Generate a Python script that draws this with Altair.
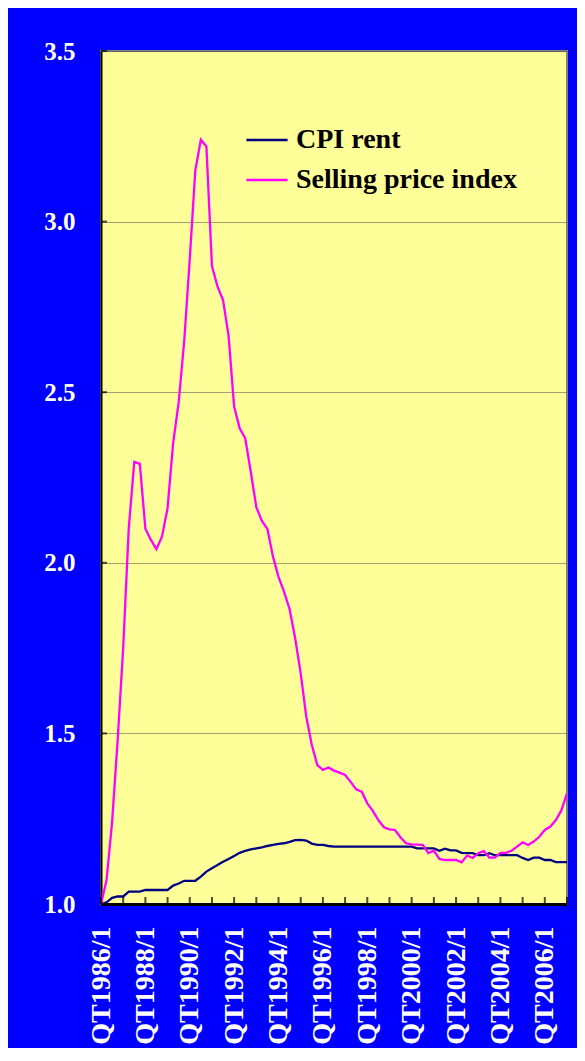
import altair as alt
import pandas as pd

# Quarter categories (1986 Q1 .. 2007 Q1)
quarters = [f"QT{y}/{q}" for y in range(1986, 2008) for q in range(1, 5)][:85]
label_quarters = [f"QT{y}/1" for y in range(1986, 2007, 2)]
tick_quarters = [f"QT{y}/1" for y in range(1986, 2008)]
y_ticks = [1.0, 1.5, 2.0, 2.5, 3.0, 3.5]
series_names = ["CPI rent", "Selling price index"]

cpi_rent = [
    1.000, 1.005, 1.018, 1.022, 1.022, 1.036, 1.036, 1.036, 1.041, 1.041,
    1.041, 1.041, 1.041, 1.054, 1.060, 1.068, 1.068, 1.068, 1.080, 1.095,
    1.105, 1.114, 1.124, 1.132, 1.141, 1.150, 1.156, 1.160, 1.163, 1.166,
    1.170, 1.173, 1.176, 1.178, 1.182, 1.187, 1.188, 1.186, 1.177, 1.173,
    1.173, 1.170, 1.168, 1.168, 1.168, 1.168, 1.168, 1.168, 1.168, 1.168,
    1.168, 1.168, 1.168, 1.168, 1.168, 1.168, 1.168, 1.163, 1.163, 1.163,
    1.163, 1.156, 1.162, 1.157, 1.157, 1.150, 1.149, 1.149, 1.143, 1.143,
    1.149, 1.143, 1.143, 1.143, 1.143, 1.143, 1.135, 1.129, 1.136, 1.136,
    1.129, 1.129, 1.123, 1.123, 1.123,
]

selling_price = [
    1.000, 1.070, 1.240, 1.480, 1.750, 2.100, 2.296, 2.290, 2.100, 2.067,
    2.040, 2.077, 2.160, 2.350, 2.470, 2.650, 2.890, 3.150, 3.240, 3.220,
    2.870, 2.810, 2.770, 2.665, 2.457, 2.394, 2.365, 2.267, 2.163, 2.123,
    2.099, 2.018, 1.959, 1.915, 1.864, 1.779, 1.676, 1.549, 1.466, 1.407,
    1.393, 1.400, 1.391, 1.385, 1.378, 1.358, 1.336, 1.329, 1.295, 1.273,
    1.246, 1.225, 1.219, 1.217, 1.195, 1.178, 1.175, 1.174, 1.173, 1.149,
    1.156, 1.132, 1.129, 1.129, 1.129, 1.122, 1.142, 1.135, 1.149, 1.155,
    1.136, 1.136, 1.150, 1.150, 1.156, 1.168, 1.181, 1.173, 1.183, 1.197,
    1.217, 1.227, 1.246, 1.275, 1.324,
]

n = len(quarters)
df = pd.DataFrame({
    "quarter": quarters * 2,
    "idx": list(range(n)) * 2,
    "value": cpi_rent + selling_price,
    "series": [series_names[0]] * n + [series_names[1]] * n,
})
ytick_df = pd.DataFrame({"v": y_ticks})
xtick_df = pd.DataFrame({"quarter": tick_quarters})

FONT = "Liberation Serif"
W, H = 466, 853

x_scale = alt.Scale(type="point", padding=0, domain=quarters)
y_scale = alt.Scale(domain=[1.0, 3.5], nice=False, zero=False)

lines = alt.Chart(df).mark_line(strokeWidth=2.3, clip=True).encode(
    x=alt.X("quarter:O", scale=x_scale, sort=None, title=None,
            axis=alt.Axis(values=label_quarters, labelAngle=270, labelAlign="right",
                          labelBaseline="middle", labelPadding=22, ticks=False,
                          grid=False, domainColor="black", domainWidth=3,
                          labelColor="white", labelFont=FONT, labelFontSize=28,
                          labelFontWeight="bold")),
    y=alt.Y("value:Q", scale=y_scale, title=None,
            axis=alt.Axis(values=y_ticks, format=".1f", ticks=False, labelPadding=26,
                          grid=True, gridColor="#444444", gridDash=[1, 1], gridWidth=1,
                          domainColor="black", domainWidth=2, labelColor="white",
                          labelFont=FONT, labelFontSize=25, labelFontWeight="bold")),
    color=alt.Color("series:N", scale=alt.Scale(domain=series_names, range=["#000080", "#FF00FF"]),
                    legend=alt.Legend(title=None, orient="none", legendX=144, legendY=67,
                                      symbolType="stroke", symbolSize=1700, symbolStrokeWidth=2.5,
                                      labelFont=FONT, labelFontSize=28, labelFontWeight="bold",
                                      labelColor="black", labelOffset=7, rowPadding=4,
                                      labelLimit=0, padding=0)),
    order=alt.Order("idx:Q"),
)

yticks = alt.Chart(ytick_df).mark_tick(orient="horizontal", color="black", thickness=2, size=6).encode(
    y=alt.Y("v:Q", scale=y_scale), x=alt.value(3)
)
xticks = alt.Chart(xtick_df).mark_tick(orient="vertical", color="black", thickness=2, size=7).encode(
    x=alt.X("quarter:O", scale=x_scale, sort=None), y=alt.value(H - 3.5)
)

chart = alt.layer(lines, yticks, xticks).properties(
    width=W, height=H, background="#0000FF",
    autosize=alt.AutoSizeParams(type="none"),
    padding={"left": 93, "top": 43, "right": 10, "bottom": 144},
).configure_view(fill="#FFFF99", stroke="#808080", strokeWidth=2)

chart.save("out.html", embed_options={"renderer": "svg", "actions": False})
